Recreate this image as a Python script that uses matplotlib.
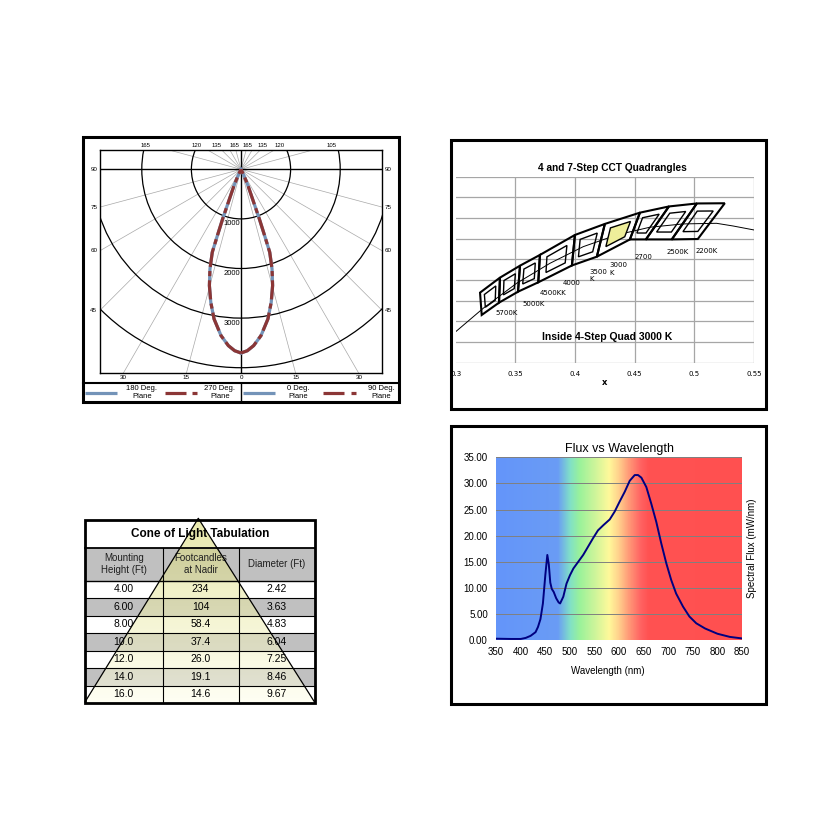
import numpy as np
import matplotlib
matplotlib.use('Agg')
import matplotlib.pyplot as plt
from matplotlib.patches import Rectangle, Circle, Polygon
from matplotlib.colors import LinearSegmentedColormap

plt.rcParams['font.family'] = ['Liberation Sans', 'DejaVu Sans']

W = 831

# ---- photometric plot: candela against angle from nadir (deg)
polar_angles = [0, 2.0, 4.1, 6.85, 10.2, 12.8, 15.2, 17.3, 19.1, 19.6, 20.3, 21.0, 23.2, 25, 30]
polar_candela = [3703, 3660, 3564, 3377, 3066, 2750, 2430, 2104, 1770, 1420, 1067, 712, 358, 150, 0]
circle_radii = [1000, 2000, 3000, 4000]
radial_angles = [15, 30, 45, 60, 75, 105, 120, 135, 150, 165]
side_angles = [45, 60, 75, 90]
bottom_angles = [30, 15, 0, 15, 30]
bottom_signs = [-1, -1, 0, 1, 1]
top_labels = ['165', '120', '135', '165', '165', '135', '120', '105']
top_label_px = [145, 197, 217, 234, 247, 263, 280, 332]
legend_names = ['180 Deg.\nPlane', '270 Deg.\nPlane', '0 Deg.\nPlane', '90 Deg.\nPlane']

# ---- CCT quadrangles (CIE x, y)
cct_top_x = [0.3204, 0.3371, 0.3539, 0.3706, 0.3999, 0.4250, 0.4544, 0.4787, 0.5021, 0.5255]
cct_top_y = [0.3478, 0.3623, 0.3739, 0.3843, 0.4036, 0.4143, 0.4252, 0.4312, 0.4341, 0.4343]
cct_bot_x = [0.3218, 0.3363, 0.3522, 0.3692, 0.3974, 0.4183, 0.4460, 0.4594, 0.4811, 0.5029]
cct_bot_y = [0.3262, 0.3381, 0.3487, 0.3578, 0.3741, 0.3826, 0.3993, 0.3993, 0.3993, 0.3997]
locus_x = [0.300, 0.3231, 0.3511, 0.3790, 0.4069, 0.4348, 0.4627, 0.4906, 0.5186, 0.5325, 0.5498]
locus_y = [0.3100, 0.3327, 0.3569, 0.3762, 0.3923, 0.4036, 0.4111, 0.4143, 0.4149, 0.4123, 0.4085]
cct_labels = ['5700K', '5000K', '4500KK', '4000', '3500\nK', '3000\nK', '2700', '2500K', '2200K']
cct_label_x = [0.3427, 0.3650, 0.3812, 0.3972, 0.4119, 0.4292, 0.4571, 0.4864, 0.5102]
cct_label_y = [0.3278, 0.3368, 0.3478, 0.3574, 0.3646, 0.3709, 0.3826, 0.3875, 0.3881]
cct_label_ha = ['center', 'center', 'center', 'center', 'left', 'left', 'center', 'center', 'center']
highlight_quad = 5
cct_xticks = [0.3, 0.35, 0.4, 0.45, 0.5, 0.55]
cct_xticklabels = ['0.3', '0.35', '0.4', '0.45', '0.5', '0.55']

# ---- cone of light table
mount_height = ['4.00', '6.00', '8.00', '10.0', '12.0', '14.0', '16.0']
footcandles = ['234', '104', '58.4', '37.4', '26.0', '19.1', '14.6']
diameter = ['2.42', '3.63', '4.83', '6.04', '7.25', '8.46', '9.67']
table_headers = ['Mounting\nHeight (Ft)', 'Footcandles\nat Nadir', 'Diameter (Ft)']

# ---- spectrum
wavelength = [350, 380, 400, 410, 420, 430, 435, 440, 445, 450,
              454, 457, 460, 463, 467, 472, 477, 480,
              486.5, 493, 500, 507, 517, 527, 537, 547, 557, 568,
              581, 591, 601, 611.5, 621.6, 631.8, 638.5, 645.3, 655.4, 665.5,
              675.7, 685.8, 696, 706, 716, 730, 743, 757, 775, 800,
              825, 850]
flux = [0.25, 0.2, 0.2, 0.4, 0.8, 1.5, 2.5, 4.0, 7.0, 12.5,
        16.3, 14.5, 11.0, 9.8, 9.2, 8.0, 7.2, 7.0,
        8.3, 10.8, 12.4, 13.7, 15.0, 16.3, 17.9, 19.5, 21.0, 22.0,
        23.1, 24.6, 26.5, 28.4, 30.5, 31.6, 31.6, 31.1, 29.3, 26.1,
        22.6, 18.5, 14.7, 11.5, 8.9, 6.4, 4.5, 3.2, 2.2, 1.2,
        0.6, 0.3]
spectrum_stops = [(350, '#6495fa'), (475, '#6a9cf5'), (500, '#80e0c8'), (520, '#9af29a'),
                  (550, '#ccf59a'), (580, '#fff99a'), (600, '#ffd08c'), (620, '#ff9a78'),
                  (645, '#ff6262'), (660, '#ff5252'), (850, '#ff5050')]


def px_rect(x0, y0, x1, y1):
    return [x0 / W, 1 - y1 / W, (x1 - x0) / W, (y1 - y0) / W]


fig = plt.figure(figsize=(W / 100, W / 100), dpi=100)
fig.patch.set_facecolor('white')

BLUE = '#7393b8'
RED = '#8b3636'

# ================= panel 1: polar candela plot =================
cx, cy = 241, 169.3
k = 20.16  # candela per pixel
pl, pt, pr, pb = 100.3, 150.3, 382, 373.3
ax1 = fig.add_axes(px_rect(pl, pt, pr, pb))
ax1.set_xlim((pl - cx) * k, (pr - cx) * k)
ax1.set_ylim((cy - pb) * k, (cy - pt) * k)
ax1.set_xticks([])
ax1.set_yticks([])
for s in ax1.spines.values():
    s.set_linewidth(1.0)

for r in circle_radii:
    ax1.add_patch(Circle((0, 0), r, fill=False, ec='black', lw=0.9, zorder=2))
for a in radial_angles:
    t = np.radians(a)
    for sgn in (-1, 1):
        ax1.plot([0, sgn * 7000 * np.sin(t)], [0, -7000 * np.cos(t)], color='#a8a8a8', lw=0.5, zorder=1)
ax1.axhline(0, color='black', lw=1.0, zorder=2)
ax1.axvline(0, color='black', lw=1.0, zorder=2)

th = np.radians(polar_angles)
cd = np.array(polar_candela)
for sgn in (-1, 1):
    xs = sgn * cd * np.sin(th)
    ys = -cd * np.cos(th)
    ax1.plot(xs, ys, color=BLUE, lw=2.3, zorder=4)
    ax1.plot(xs, ys, color=RED, lw=2.3, dashes=(6, 1.3, 1.6, 1.3), zorder=5)

for r in circle_radii[:3]:
    ax1.text(-10, -(r + 100), str(r), ha='right', va='center', fontsize=5.5, zorder=6)

x_left, x_right = ax1.get_xlim()
y_bot = ax1.get_ylim()[0]
for a in side_angles:
    ty = -abs(x_left) / np.tan(np.radians(a))
    ax1.text((93.7 - cx) * k, ty, str(a), ha='center', va='center', fontsize=4.5, clip_on=False)
    ty = -abs(x_right) / np.tan(np.radians(a))
    ax1.text((388 - cx) * k, ty, str(a), ha='center', va='center', fontsize=4.5, clip_on=False)
for a, sgn in zip(bottom_angles, bottom_signs):
    tx = sgn * abs(y_bot) * np.tan(np.radians(a))
    ax1.text(tx, (cy - 377.5) * k, str(a), ha='center', va='center', fontsize=4.5, clip_on=False)
for lab, xp in zip(top_labels, top_label_px):
    ax1.text((xp - cx) * k, (cy - 145.3) * k, lab, ha='center', va='center', fontsize=4.3, clip_on=False)

# ================= panel 2: CCT quadrangles =================
ax2 = fig.add_axes(px_rect(455.7, 176.7, 754, 362.7))
ax2.set_xlim(0.3, 0.55)
ax2.set_ylim(0.28, 0.46)
ax2.set_xticks(cct_xticks)
ax2.set_xticklabels(cct_xticklabels, fontsize=5, family='DejaVu Sans')
ax2.set_yticks(np.arange(0.28, 0.4601, 0.02))
ax2.set_yticklabels([])
ax2.tick_params(length=0, pad=6.3)
ax2.grid(True, color='#a6a6a6', lw=0.9)
ax2.set_axisbelow(True)
ax2.xaxis.get_gridlines()[0].set_visible(False)
for s in ax2.spines.values():
    s.set_visible(False)

ax2.plot(locus_x, locus_y, color='black', lw=0.7, zorder=2)
for i in range(len(cct_top_x) - 1):
    quad = np.array([[cct_top_x[i], cct_top_y[i]], [cct_top_x[i + 1], cct_top_y[i + 1]],
                     [cct_bot_x[i + 1], cct_bot_y[i + 1]], [cct_bot_x[i], cct_bot_y[i]]])
    ax2.add_patch(Polygon(quad, closed=True, fill=False, ec='black', lw=1.5, joinstyle='miter', zorder=4))
    c = quad.mean(axis=0)
    inner = c + (quad - c) * 4 / 7
    fc = '#eeee9a' if i == highlight_quad else 'none'
    ax2.add_patch(Polygon(inner, closed=True, fc=fc, ec='black', lw=1.0, zorder=3))
for lab, lx, ly, ha in zip(cct_labels, cct_label_x, cct_label_y, cct_label_ha):
    ax2.text(lx, ly, lab, ha=ha, va='center', fontsize=5, family='DejaVu Sans', linespacing=1.3, zorder=5)
ax2.text(0.4265, 0.3052, 'Inside 4-Step Quad 3000 K', ha='center', va='center',
         fontsize=7.5, fontweight='bold', zorder=5)
ax2.text(0.5005, -0.104, 'x', transform=ax2.transAxes, ha='center', va='center',
         fontsize=6, fontweight='bold', family='DejaVu Sans')
fig.text(612 / W, 1 - 167.7 / W, '4 and 7-Step CCT Quadrangles', ha='center', va='center',
         fontsize=7.3, fontweight='bold')

# ================= panel 4: spectrum =================
ax4 = fig.add_axes(px_rect(496.2, 457.3, 742, 640))
cmap = LinearSegmentedColormap.from_list('spec', [((w - 350) / 500, c) for w, c in spectrum_stops])
ax4.imshow(np.linspace(0, 1, 600)[None, :], extent=(350, 850, 0, 35), aspect='auto',
           cmap=cmap, zorder=0, interpolation='bilinear')
ax4.plot(wavelength, flux, color='#000080', lw=1.4, zorder=3)
ax4.set_xlim(350, 850)
ax4.set_ylim(0, 35)
ax4.set_xticks(np.arange(350, 851, 50))
ax4.set_yticks(np.arange(0, 35.1, 5))
ax4.set_yticklabels(['%.2f' % v for v in np.arange(0, 35.1, 5)])
ax4.tick_params(length=0, labelsize=7)
ax4.tick_params(axis='x', pad=5)
ax4.tick_params(axis='y', pad=6)
ax4.yaxis.grid(True, color='#808080', lw=0.7)
ax4.set_axisbelow(True)
for s in ax4.spines.values():
    s.set_visible(False)
ax4.set_title('Flux vs Wavelength', fontsize=9, pad=4)
ax4.text(0.456, -0.17, 'Wavelength (nm)', transform=ax4.transAxes, ha='center', va='center', fontsize=7)
ax4.text(1.0395, 0.5, 'Spectral Flux (mW/nm)', transform=ax4.transAxes, rotation=90,
         ha='center', va='center', fontsize=7)

# ================= overlay: table, legend, frames =================
ov = fig.add_axes([0, 0, 1, 1], zorder=5)
ov.patch.set_visible(False)
ov.axis('off')

# table
cols = [85, 162.5, 238.5, 314.5]
t_top, t_title, t_head = 520, 548, 580.5
row_h = (703 - t_head) / len(mount_height)
ov.add_patch(Rectangle((cols[0], t_head - 32.5), cols[-1] - cols[0], 32.5, fc='#c0c0c0', ec='none', zorder=1))
for i in range(len(mount_height)):
    fc = '#c0c0c0' if i % 2 else 'white'
    ov.add_patch(Rectangle((cols[0], t_head + i * row_h), cols[-1] - cols[0], row_h, fc=fc, ec='none', zorder=1))

n = 200
grad = np.zeros((n, 1, 4))
f = np.linspace(0, 1, n)
grad[:, 0, 0] = (215 + 40 * f) / 255
grad[:, 0, 1] = (215 + 40 * f) / 255
grad[:, 0, 2] = (105 + 130 * f) / 255
grad[:, 0, 3] = 0.55
apex = (198.3, 518.3)
im = ov.imshow(grad, extent=(cols[0], cols[-1], 703, apex[1]), aspect='auto', zorder=2,
               interpolation='bilinear')
tri = Polygon([apex, (cols[0], 702), (cols[-1], 702)], closed=True, fc='none', ec='none')
ov.add_patch(tri)
im.set_clip_path(tri)

ov.text((cols[0] + cols[-1]) / 2, (t_top + t_title) / 2, 'Cone of Light Tabulation', ha='center',
        va='center', fontsize=8.5, fontweight='bold', zorder=3)
for j, h in enumerate(table_headers):
    ov.text((cols[j] + cols[j + 1]) / 2, (t_title + t_head) / 2, h, ha='center', va='center',
            fontsize=7, zorder=3, color='#202020')
for i, vals in enumerate(zip(mount_height, footcandles, diameter)):
    for j, v in enumerate(vals):
        ov.text((cols[j] + cols[j + 1]) / 2, t_head + (i + 0.5) * row_h, v, ha='center', va='center',
                fontsize=7.5, zorder=3)
ov.plot([cols[0], apex[0], cols[-1]], [702, apex[1], 702], color='black', lw=0.9, zorder=4)
for i in range(1, len(mount_height)):
    yy = t_head + i * row_h
    ov.plot([cols[0], cols[-1]], [yy, yy], color='black', lw=0.8, zorder=4)
ov.plot([cols[0], cols[-1]], [t_head, t_head], color='black', lw=1.0, zorder=4)
ov.plot([cols[0], cols[-1]], [t_title, t_title], color='black', lw=1.3, zorder=4)
for xx in cols[1:-1]:
    ov.plot([xx, xx], [t_title, 703], color='black', lw=0.8, zorder=4)
ov.add_patch(Rectangle((cols[0], t_top), cols[-1] - cols[0], 703 - t_top, fill=False, ec='black', lw=2.0, zorder=5))

# polar legend row
ov.plot([83, 399], [382.7, 382.7], color='black', lw=1.5)
ov.plot([241, 241], [382.7, 402], color='black', lw=1.0)
leg_y = 392.5
for x0, x1, name_x, name, is_red in [(85, 117, 142, legend_names[0], False),
                                      (165, 197, 220, legend_names[1], True),
                                      (243, 275, 298, legend_names[2], False),
                                      (323, 356, 381, legend_names[3], True)]:
    if is_red:
        ov.plot([x0, x0 + 21], [leg_y, leg_y], color=RED, lw=2.3, solid_capstyle='butt')
        ov.plot([x1 - 5, x1], [leg_y, leg_y], color=RED, lw=2.3, solid_capstyle='butt')
    else:
        ov.plot([x0, x1], [leg_y, leg_y], color=BLUE, lw=2.3, solid_capstyle='butt')
    ov.text(name_x, leg_y, name, ha='center', va='center', fontsize=5.5, linespacing=1.05)

# crop of the CCT chart's left edge
ov.add_patch(Rectangle((425, 366), 25.5, 18, fc='white', ec='none', zorder=1))

# panel frames
for x0, y0, x1, y1 in [(83, 137, 399, 402), (451, 140, 766, 409), (451, 425.5, 766, 704)]:
    ov.add_patch(Rectangle((x0, y0), x1 - x0, y1 - y0, fill=False, ec='black', lw=2.2, zorder=6))

ov.set_xlim(0, W)
ov.set_ylim(W, 0)

fig.savefig('out.png', dpi=100, facecolor='white')
